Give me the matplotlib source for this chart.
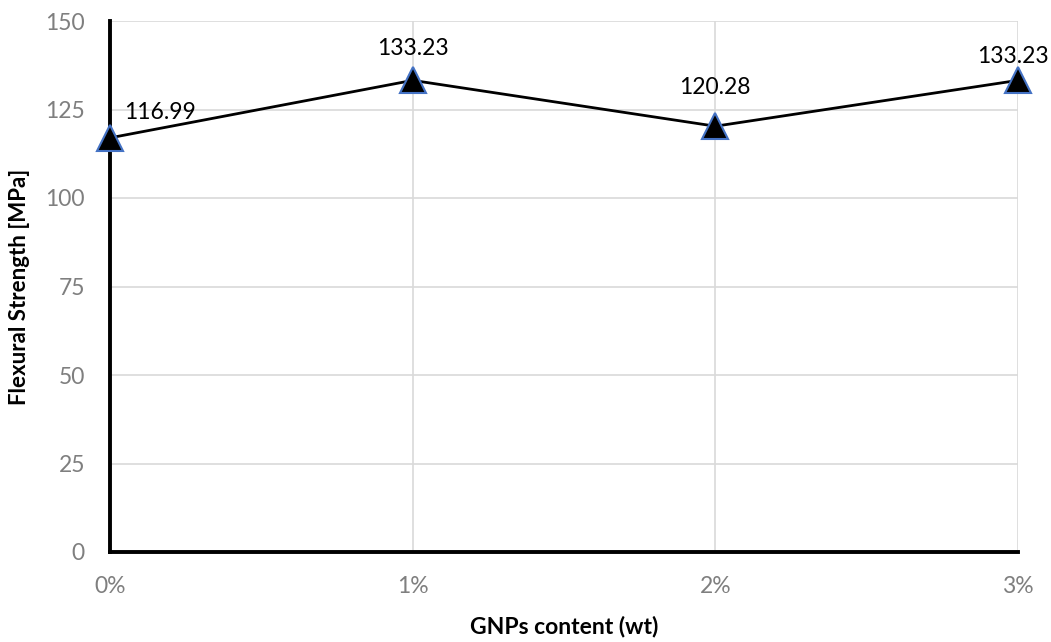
import matplotlib
matplotlib.use("Agg")
import matplotlib.pyplot as plt

plt.rcParams['font.family'] = ['Lato', 'DejaVu Sans']

# GNPs content and measured flexural strength
categories = ["0%", "1%", "2%", "3%"]
strength = [116.99, 133.23, 120.28, 133.23]
y_ticks = [0, 25, 50, 75, 100, 125, 150]

# label offsets in points (dx, dy)
label_offsets = [(36, 18), (0, 23), (0, 28), (-4, 17)]

fig = plt.figure(figsize=(10.51, 6.42), dpi=100)
ax = fig.add_axes([110 / 1051, 90 / 642, 908 / 1051, 531 / 642])

x = list(range(len(categories)))
ax.plot(x, strength, color='black', linewidth=2, zorder=3, clip_on=False)
ax.plot(x, strength, linestyle='none', marker='^', markersize=18.5,
        markerfacecolor='black', markeredgecolor='#4472C4', markeredgewidth=1.5,
        zorder=4, clip_on=False)

for xi, v, (dx, dy) in zip(x, strength, label_offsets):
    ax.annotate(f"{v:.2f}", (xi, v), xytext=(dx, dy), textcoords='offset points',
                ha='center', va='center', fontsize=16.5, color='black', zorder=5)

ax.set_xlim(0, 3)
ax.set_ylim(0, 150)
ax.set_xticks(x)
ax.set_xticklabels(categories)
ax.set_yticks(y_ticks)

ax.grid(True, color='#d9d9d9', linewidth=1.2)
ax.set_axisbelow(True)

for side in ['top', 'right']:
    ax.spines[side].set_visible(False)
for side in ['left', 'bottom']:
    ax.spines[side].set_linewidth(2.8)
    ax.spines[side].set_color('black')
    ax.spines[side].set_zorder(2.5)

ax.tick_params(axis='both', length=0, labelsize=16.5, labelcolor='#7f7f7f')
ax.tick_params(axis='y', pad=18)
ax.tick_params(axis='x', pad=17)

ax.set_xlabel("GNPs content (wt)", fontsize=16.5, fontweight='bold', labelpad=14)
ax.set_ylabel("Flexural Strength [MPa]", fontsize=16, fontweight='bold', labelpad=11)

fig.savefig("out.png", dpi=100)
